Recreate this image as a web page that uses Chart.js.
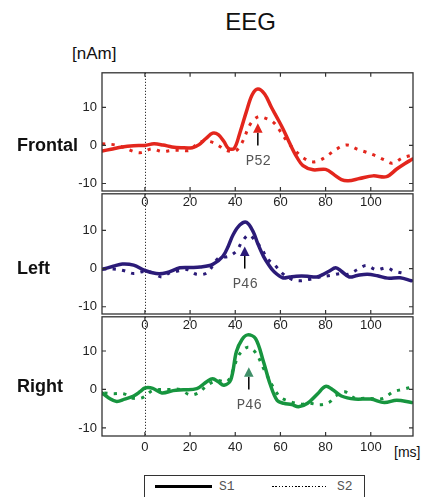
<!DOCTYPE html>
<html><head><meta charset="utf-8">
<script src="https://cdn.jsdelivr.net/npm/chart.js@4/dist/chart.umd.min.js"></script>
<style>
html,body{margin:0;padding:0;}
body{width:424px;height:497px;background:#fff;position:relative;overflow:hidden;font-family:"Liberation Sans",Arial,sans-serif;color:#111;}
.abs{position:absolute;white-space:nowrap;}
canvas{position:absolute;left:0;}
.mono{font-family:"Liberation Mono","DejaVu Sans Mono",monospace;font-size:13px;line-height:13px;color:#555;}
.pl{font-weight:bold;font-size:18px;line-height:18px;left:17px;}
</style></head><body>
<div class="abs" style="left:150px;width:201px;top:10px;text-align:center;font-size:24px;line-height:24px;">EEG</div>
<div class="abs" style="left:72px;top:44.5px;font-size:17px;line-height:17px;">[nAm]</div>
<div class="abs" style="left:394px;top:445px;font-size:14px;line-height:14px;">[ms]</div>
<div class="abs" style="left:144px;top:475px;width:221px;height:40px;border:1px solid #333;box-sizing:border-box;"></div>
<div class="abs" style="left:155px;top:485px;width:57px;height:2.5px;background:#000;"></div>
<span class="abs mono" style="left:219px;top:480px;">S1</span>
<div class="abs" style="left:272px;top:485.5px;width:55px;height:1.5px;background:repeating-linear-gradient(90deg,#000 0 1.5px,transparent 1.5px 3.3px);"></div>
<span class="abs mono" style="left:337px;top:480px;">S2</span>
<div id="wrap"></div>
<script>
// ---------- data (ms, nAm) ----------
const xTicks = [0, 20, 40, 60, 80, 100];
const yTicks = [-10, 0, 10];
const panelNames = ['Frontal', 'Left', 'Right'];
const seriesNames = ['S1', 'S2'];
const peakLabels = ['P52', 'P46', 'P46'];
const peakTimes = [50, 44.2, 46];

const frontalS1T = [-19, -15, -10, -5, 0, 4, 8, 12, 16, 21, 24, 27, 30, 32.5, 35, 37, 39.5, 42, 45, 47.5, 50, 53, 56, 58.5, 61, 64, 67, 70, 74.5, 80, 84, 87, 90, 95, 101, 107, 111.5, 115, 118.5];
const frontalS1V = [-1.5, -1.0, -0.4, -0.1, 0, 0.4, 0.1, -0.4, -0.6, -0.6, 0.2, 1.8, 3.2, 2.8, 1.0, -0.8, -0.8, 3.2, 9.0, 13.3, 14.8, 13.5, 10, 7.3, 4.5, 0.7, -2.8, -5.3, -6.4, -6.3, -7.8, -9.0, -9.3, -8.7, -8.0, -8.2, -6.2, -4.8, -3.6];
const frontalS2T = [-19, -14, -9.5, -5, -1.5, 3, 7.5, 12, 16, 20, 23.5, 27, 30, 32.5, 36, 40, 43, 46.5, 50, 53, 57, 60.5, 63, 66, 70, 74, 77.5, 81, 85, 89.5, 94, 98, 102, 106, 109.5, 114, 118];
const frontalS2V = [0.4, 0.2, -0.5, -1.6, -1.9, -0.9, -1.6, -1.3, -1.3, -1.3, 0.7, 1.1, 0.8, 0, -1.3, -1.5, 0.7, 5.4, 7.5, 7.2, 6.0, 3.2, 1.0, -1.0, -3.2, -4.3, -3.9, -2.6, -0.9, 0.1, -1.0, -1.8, -2.7, -3.8, -4.7, -3.3, -2.6];

const leftS1T = [-19, -14, -10, -5, 0, 5, 9.5, 15.5, 20, 24.5, 30, 34.5, 37, 39, 42, 45, 48, 50, 52.5, 55, 57, 61, 64, 67, 72, 76, 79, 81.5, 84.5, 87, 90.5, 94, 98.5, 103, 107.5, 113, 118];
const leftS1V = [-0.2, 0.6, 1.2, 0.9, -0.5, -1.3, -1.1, 0.2, 0.3, 0.4, 1.1, 3.2, 6, 8.8, 11.4, 12.1, 9.6, 6.5, 3.2, 0.8, -0.7, -2.4, -2.2, -2.0, -2.0, -2.2, -1.5, -0.7, 0.2, -0.7, -2.2, -1.8, -1.5, -1.9, -2.5, -2.4, -3.2];
const leftS2T = [-18.5, -14, -9.5, -5, -1, 3, 7.5, 11, 15, 19, 23, 27.5, 32.5, 37, 40.5, 43, 46, 49, 52, 54, 57.5, 61, 65, 68.5, 73, 77.5, 82, 86.5, 90, 94.5, 98, 102.5, 107, 110.5, 115];
const leftS2V = [-0.1, -0.1, -0.5, -1.3, -0.8, -1.0, -2.2, -1.1, -0.6, -0.3, -1.5, -1.1, 2.7, 3.2, 4.6, 7.0, 8.8, 7.2, 4.9, 2.7, 0.9, -1.3, -2.8, -3.2, -2.8, -2.2, -1.8, -1.3, -1.5, -0.1, 0.8, -0.3, 0.2, -0.7, -1.3];

const rightS1T = [-19, -16, -12.5, -9, -5, -2, 0, 3.5, 7.5, 12.5, 17, 23, 27.5, 30, 32.5, 35, 38, 40.5, 43, 45.5, 49, 52.5, 55.5, 58.5, 61.5, 65, 68, 72, 76.5, 80, 83, 87, 93, 100, 106, 111.5, 118];
const rightS1V = [-0.9, -2.2, -3.1, -2.5, -1.7, -0.5, 0.4, 0.3, -0.9, -0.3, -0.1, 0.2, 2.1, 2.8, 2.0, 1.1, 2.5, 9.8, 13.0, 14.2, 13.2, 7.2, 1.3, -2.8, -3.6, -3.9, -4.5, -3.6, -1.1, 0.8, 0, -1.7, -2.5, -2.5, -3.4, -2.8, -3.4];
const rightS2T = [-18, -14, -9.5, -5, -1, 3, 6.5, 11, 15.5, 20, 24, 27.5, 32, 36.5, 39.5, 41.5, 45.5, 49, 52.5, 57, 60, 64, 69, 73, 77.5, 81.5, 84.5, 88.5, 93, 97.5, 101.5, 105.5, 110, 114, 118];
const rightS2V = [-0.9, -1.1, -1.1, -2.3, -2.1, -0.4, 0, 0, 0, -1.4, -0.8, 1.1, 2.3, 2.1, 5.9, 8.9, 11, 9.6, 5.5, 0.4, -2, -3.1, -3.8, -3.6, -4, -3.4, -1.7, -0.6, -2.3, -2.3, -2.4, -2.3, -0.6, 0, 0.6];

// ---------- styling / layout ----------
const lineColors = ['#e3261d', '#2b1b78', '#17953f'];
const triColors = ['#e3261d', '#2b1b78', '#3f8f68'];
const panels = [
  {top: 70, h: 121, ymin: -11.97, ymax: 19.05, labelTop: 135.5, s1: [frontalS1T, frontalS1V], s2: [frontalS2T, frontalS2V]},
  {top: 191, h: 123, ymin: -11.9, ymax: 19.6, labelTop: 258.5, s1: [leftS1T, leftS1V], s2: [leftS2T, leftS2V]},
  {top: 314, h: 122, ymin: -12.1, ymax: 18.9, labelTop: 377, s1: [rightS1T, rightS1V], s2: [rightS2T, rightS2V]}
];
const PADTOP = 10, XAXH = 25;

const pts = (t, v) => t.map((tt, i) => ({x: tt, y: v[i]}));

const decor = {
  id: 'decor',
  beforeDatasetsDraw(chart) {
    const {ctx, chartArea: a, scales: {x}} = chart;
    ctx.save();
    ctx.strokeStyle = '#000'; ctx.lineWidth = 1; ctx.setLineDash([1, 2]);
    const x0 = Math.round(x.getPixelForValue(0)) + 0.5;
    ctx.beginPath(); ctx.moveTo(x0, a.top); ctx.lineTo(x0, a.bottom); ctx.stroke();
    ctx.restore();
  },
  afterDatasetsDraw(chart, args, o) {
    const {ctx, chartArea: a, scales: {x, y}} = chart;
    ctx.save();
    ctx.strokeStyle = '#333'; ctx.lineWidth = 1.3;
    ctx.strokeRect(a.left, a.top, a.width, a.height);
    ctx.lineWidth = 1.2;
    ctx.beginPath();
    xTicks.forEach(v => {
      const p = x.getPixelForValue(v);
      ctx.moveTo(p, a.bottom); ctx.lineTo(p, a.bottom - 4);
      ctx.moveTo(p, a.top); ctx.lineTo(p, a.top + 4);
    });
    yTicks.forEach(v => {
      const p = y.getPixelForValue(v);
      ctx.moveTo(a.left, p); ctx.lineTo(a.left + 4, p);
      ctx.moveTo(a.right, p); ctx.lineTo(a.right - 4, p);
    });
    ctx.stroke();
    // peak marker
    const px = x.getPixelForValue(o.t);
    const y0 = y.getPixelForValue(0);
    const yb = y.getPixelForValue(3.3);
    ctx.strokeStyle = '#000'; ctx.lineWidth = 1.5;
    ctx.beginPath(); ctx.moveTo(px, y0); ctx.lineTo(px, yb); ctx.stroke();
    ctx.fillStyle = o.tri;
    ctx.beginPath(); ctx.moveTo(px - 4.8, yb); ctx.lineTo(px + 4.8, yb); ctx.lineTo(px, yb - 9.5); ctx.closePath(); ctx.fill();
    ctx.fillStyle = '#555';
    ctx.font = '14px "Liberation Mono", "DejaVu Sans Mono", monospace';
    ctx.textAlign = 'center'; ctx.textBaseline = 'middle';
    ctx.fillText(o.label, px + 0.5, y.getPixelForValue(-4.1));
    ctx.restore();
  }
};

const wrap = document.getElementById('wrap');
panels.forEach((p, i) => {
  const lab = document.createElement('div');
  lab.className = 'abs pl';
  lab.style.top = p.labelTop + 'px';
  lab.textContent = panelNames[i];
  document.body.appendChild(lab);

  const cv = document.createElement('canvas');
  const H = PADTOP + p.h + XAXH;
  cv.width = 424; cv.height = H;
  cv.style.width = '424px'; cv.style.height = H + 'px';
  cv.style.top = (p.top - PADTOP) + 'px';
  wrap.appendChild(cv);

  new Chart(cv, {
    type: 'line',
    data: {
      datasets: [
        {label: seriesNames[0], data: pts(p.s1[0], p.s1[1]), borderColor: lineColors[i], borderWidth: 3.5, pointRadius: 0, tension: 0.35, fill: false, borderCapStyle: 'round', borderJoinStyle: 'round'},
        {label: seriesNames[1], data: pts(p.s2[0], p.s2[1]), borderColor: lineColors[i], borderWidth: 3, borderDash: [3.2, 6.3], pointRadius: 0, tension: 0.35, fill: false, borderCapStyle: 'butt'}
      ]
    },
    options: {
      responsive: false, animation: false, devicePixelRatio: 1,
      layout: {padding: {top: PADTOP, right: 11, bottom: 0, left: 0}},
      plugins: {legend: {display: false}, tooltip: {enabled: false},
        decor: {t: peakTimes[i], label: peakLabels[i], tri: triColors[i]}},
      scales: {
        x: {type: 'linear', min: -19, max: 118.7,
          grid: {display: false, drawTicks: false}, border: {display: false},
          afterBuildTicks: s => { s.ticks = xTicks.map(v => ({value: v})); },
          afterFit: s => { s.height = XAXH; },
          ticks: {padding: 4, color: '#222', font: {family: '"Liberation Sans", Arial', size: 13}, maxRotation: 0, autoSkip: false}},
        y: {min: p.ymin, max: p.ymax,
          grid: {display: false, drawTicks: false}, border: {display: false},
          afterBuildTicks: s => { s.ticks = yTicks.map(v => ({value: v})); },
          afterFit: s => { s.width = 102; },
          ticks: {padding: 5, color: '#222', font: {family: '"Liberation Sans", Arial', size: 13}}}
      }
    },
    plugins: [decor]
  });
});
</script>
</body></html>
